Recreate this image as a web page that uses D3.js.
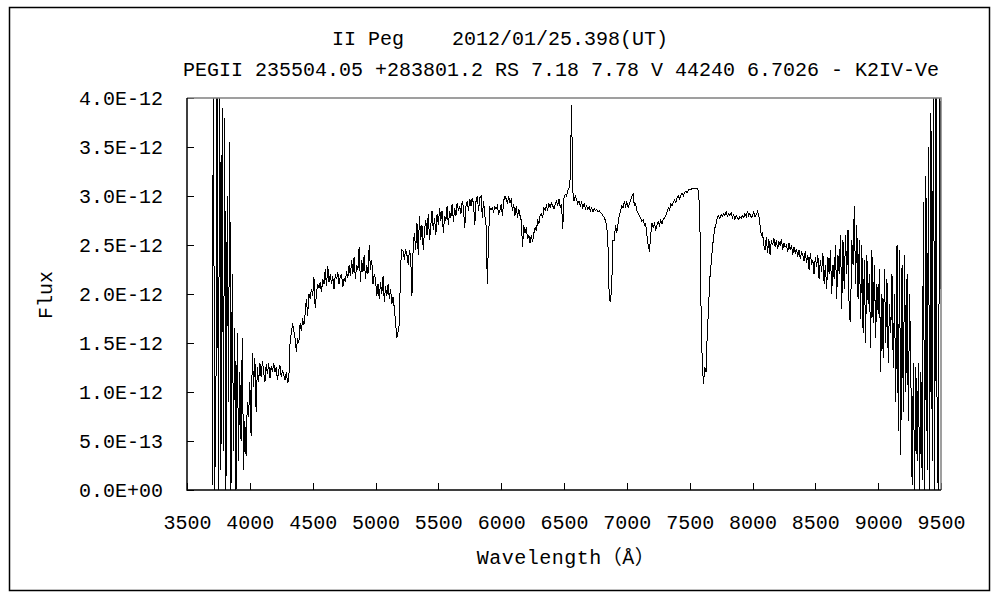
<!DOCTYPE html>
<html>
<head>
<meta charset="utf-8">
<script src="https://cdn.jsdelivr.net/npm/d3@7"></script>
<style>
  body { margin: 0; background: #fff; }
  text { font-family: "Liberation Mono", "Noto Sans CJK JP", monospace; font-size: 20px; fill: #000; white-space: pre; }
</style>
</head>
<body>
<div id="chart"></div>
<script>
// title lines
var titleLines = ["II Peg    2012/01/25.398(UT)",
                  "PEGII 235504.05 +283801.2 RS 7.18 7.78 V 44240 6.7026 - K2IV-Ve"];

// tick values (flux in units of 1E-12)
var xTicks = [3500, 4000, 4500, 5000, 5500, 6000, 6500, 7000, 7500, 8000, 8500, 9000, 9500];
var yTicks = [0, 0.5, 1.0, 1.5, 2.0, 2.5, 3.0, 3.5, 4.0];

// spectrum sampled every 10 A from 3700 A, flux in 1E-12
var waveStart = 3700, waveStep = 10;
var flux = [
  /*3700*/ 0.05, 4.5, 0.0, 0.8, 4.5, 0.0, 4.5, 0.2, 3.9, 0.4,
  /*3800*/ 3.8, 0.0, 3.0, 0.9, 3.55, 0.0, 2.2, 0.4, 1.65, 0.0,
  /*3900*/ 1.6, 0.3, 1.2, 0.5, 1.55, 0.2, 0.7, 0.35, 0.9, 0.75,
  /*4000*/ 1.1, 0.55, 1.4, 1.05, 1.35, 0.8, 1.25, 1.1, 1.3, 1.15,
  /*4100*/ 1.32, 1.2, 1.1, 1.28, 1.18, 1.3, 1.14, 1.26, 1.2, 1.3,
  /*4200*/ 1.2, 1.25, 1.12, 1.22, 1.27, 1.15, 1.22, 1.18, 1.12, 1.2,
  /*4300*/ 1.1, 1.12, 1.5, 1.6, 1.7, 1.62, 1.55, 1.41, 1.55, 1.5,
  /*4400*/ 1.7, 1.62, 1.75, 1.68, 1.8, 1.95, 1.78, 2.0, 1.95, 2.05,
  /*4500*/ 1.98, 2.17, 1.86, 2.0, 2.1, 2.06, 2.12, 2.02, 2.15, 2.1,
  /*4600*/ 2.25, 2.08, 2.29, 2.12, 2.2, 2.1, 2.18, 2.05, 2.2, 2.15,
  /*4700*/ 2.22, 2.1, 2.18, 2.2, 2.07, 2.16, 2.12, 2.23, 2.16, 2.3,
  /*4800*/ 2.18, 2.35, 2.2, 2.38, 2.15, 2.3, 2.25, 2.48, 2.12, 2.35,
  /*4900*/ 2.22, 2.4, 2.15, 2.3, 2.2, 2.5, 2.25, 2.35, 2.1, 2.2,
  /*5000*/ 2.15, 1.98, 2.1, 1.95, 2.12, 2.0, 2.18, 1.92, 2.08, 1.98,
  /*5100*/ 2.1, 1.95, 2.05, 1.9, 1.97, 1.85, 1.7, 1.55, 1.62, 1.7,
  /*5200*/ 2.3, 2.45, 2.44, 2.35, 2.46, 2.4, 2.3, 2.45, 2.38, 1.98,
  /*5300*/ 2.5, 2.62, 2.45, 2.72, 2.4, 2.8, 2.55, 2.7, 2.45, 2.65,
  /*5400*/ 2.75, 2.6, 2.82, 2.55, 2.7, 2.85, 2.65, 2.78, 2.6, 2.82,
  /*5500*/ 2.7, 2.88, 2.75, 2.85, 2.62, 2.8, 2.75, 2.9, 2.7, 2.85,
  /*5600*/ 2.78, 2.92, 2.74, 2.88, 2.8, 2.93, 2.85, 2.9, 2.82, 2.95,
  /*5700*/ 2.88, 2.67, 2.9, 2.95, 2.85, 2.97, 2.9, 2.98, 2.92, 2.7,
  /*5800*/ 2.95, 3.0, 2.85, 2.98, 3.0, 2.78, 2.95, 2.8, 2.7, 2.1,
  /*5900*/ 2.6, 2.88, 2.86, 2.88, 2.84, 2.89, 2.87, 2.9, 2.82, 2.85,
  /*6000*/ 2.92, 2.8, 2.95, 3.0, 2.97, 2.92, 3.0, 2.93, 2.96, 2.85,
  /*6100*/ 2.92, 2.8, 2.9, 2.78, 2.87, 2.8, 2.75, 2.48, 2.7, 2.62,
  /*6200*/ 2.68, 2.56, 2.6, 2.52, 2.6, 2.53, 2.62, 2.68, 2.64, 2.75,
  /*6300*/ 2.72, 2.8, 2.82, 2.78, 2.88, 2.85, 2.9, 2.86, 2.92, 2.88,
  /*6400*/ 2.93, 2.9, 2.87, 2.92, 2.95, 2.9, 2.97, 2.88, 2.92, 2.66,
  /*6500*/ 2.98, 3.02, 3.0, 3.06, 3.08, 3.19, 3.93, 3.05, 2.95, 3.0,
  /*6600*/ 2.97, 2.92, 2.95, 2.9, 2.94, 2.88, 2.92, 2.87, 2.9, 2.86,
  /*6700*/ 2.89, 2.85, 2.88, 2.84, 2.87, 2.85, 2.86, 2.84, 2.85, 2.83,
  /*6800*/ 2.82, 2.8, 2.78, 2.75, 2.7, 2.5, 1.95, 1.92, 2.1, 2.55,
  /*6900*/ 2.55, 2.7, 2.62, 2.72, 2.8, 2.85, 2.9, 2.88, 2.95, 2.9,
  /*7000*/ 2.94, 2.88, 2.92, 2.96, 3.0, 3.02, 2.9, 2.92, 2.85, 2.82,
  /*7100*/ 2.8, 2.77, 2.74, 2.76, 2.7, 2.72, 2.6, 2.5, 2.43, 2.6,
  /*7200*/ 2.72, 2.68, 2.72, 2.66, 2.7, 2.74, 2.7, 2.75, 2.72, 2.76,
  /*7300*/ 2.78, 2.8, 2.84, 2.88, 2.86, 2.92, 2.9, 2.94, 2.96, 2.93,
  /*7400*/ 2.98, 3.0, 2.97, 3.01, 3.03, 3.0, 3.04, 3.05, 3.03, 3.06,
  /*7500*/ 3.07, 3.06, 3.08, 3.08, 3.08, 3.08, 3.08, 3.05, 2.85, 1.9,
  /*7600*/ 1.3, 1.08, 1.25, 1.2, 1.6, 1.85, 2.15, 2.3, 2.45, 2.58,
  /*7700*/ 2.67, 2.72, 2.78, 2.8, 2.77, 2.81, 2.79, 2.82, 2.8, 2.84,
  /*7800*/ 2.79, 2.82, 2.8, 2.83, 2.78, 2.81, 2.76, 2.8, 2.78, 2.76,
  /*7900*/ 2.79, 2.77, 2.8, 2.78, 2.82, 2.79, 2.85, 2.8, 2.82, 2.78,
  /*8000*/ 2.8, 2.84, 2.79, 2.81, 2.84, 2.8, 2.7, 2.6, 2.62, 2.5,
  /*8100*/ 2.45, 2.58, 2.42, 2.56, 2.4, 2.55, 2.5, 2.57, 2.48, 2.55,
  /*8200*/ 2.46, 2.53, 2.5, 2.56, 2.45, 2.52, 2.48, 2.5, 2.43, 2.52,
  /*8300*/ 2.45, 2.5, 2.4, 2.48, 2.42, 2.46, 2.38, 2.45, 2.36, 2.43,
  /*8400*/ 2.4, 2.34, 2.44, 2.32, 2.4, 2.25, 2.42, 2.3, 2.35, 2.2,
  /*8500*/ 2.38, 2.28, 2.4, 2.15, 2.35, 2.22, 2.42, 2.1, 2.3, 2.05,
  /*8600*/ 2.38, 2.2, 2.45, 2.0, 2.3, 2.15, 2.5, 1.95, 2.4, 2.2,
  /*8700*/ 2.6, 1.85, 2.55, 2.05, 2.6, 2.2, 2.65, 1.75, 1.72, 2.55,
  /*8800*/ 2.3, 2.9, 2.1, 2.7, 1.95, 2.55, 1.75, 2.5, 1.6, 2.35,
  /*8900*/ 1.5, 2.4, 1.9, 2.2, 1.45, 2.45, 1.7, 2.3, 1.55, 2.1,
  /*9000*/ 1.8, 2.25, 1.2, 2.0, 1.35, 2.25, 1.5, 2.15, 1.3, 1.9,
  /*9100*/ 1.6, 2.2, 1.25, 2.0, 0.9, 2.5, 0.6, 2.45, 0.36, 2.3,
  /*9200*/ 0.8, 2.4, 1.0, 2.2, 0.7, 2.0, 1.2, 0.05, 1.3, 0.0,
  /*9300*/ 1.25, 0.3, 1.3, 0.0, 1.2, 0.1, 2.94, 0.0, 3.2, 0.2,
  /*9400*/ 3.5, 0.0, 3.85, 0.3, 4.5, 0.0, 4.5, 0.2, 0.0, 4.5,
  /*9500*/ 2.05
];

var wavelength = flux.map(function(d, i) { return waveStart + i * waveStep; });
var data = flux.map(function(d, i) { return {w: wavelength[i], f: d}; });

var width = 1000, height = 600;
var plot = {left: 187, right: 941, top: 98, bottom: 490};

var svg = d3.select("#chart")
  .append("svg")
    .attr("width", width)
    .attr("height", height)
    .style("display", "block")
    .style("background", "#fff");

// outer frame
svg.append("rect")
  .attr("x", 9.5).attr("y", 7.5)
  .attr("width", 980).attr("height", 583)
  .attr("fill", "none")
  .attr("stroke", "#000")
  .attr("stroke-width", 1.5);

// titles
svg.append("text").attr("x", 500).attr("y", 45).attr("text-anchor", "middle").text(titleLines[0]);
svg.append("text").attr("x", 561).attr("y", 76).attr("text-anchor", "middle").text(titleLines[1]);

var x = d3.scaleLinear().domain([3500, 9500]).range([plot.left, plot.right]);
var y = d3.scaleLinear().domain([0, 4]).range([plot.bottom, plot.top]);

// 4.0E-12 style labels
function sci(v) {
  v = v * 1e-12;
  if (v === 0) return "0.0E+00";
  var e = Math.floor(Math.log10(Math.abs(v)) + 1e-9);
  var m = v / Math.pow(10, e);
  return m.toFixed(1) + "E" + (e < 0 ? "-" : "+") + String(Math.abs(e)).padStart(2, "0");
}

// clip the spectrum to the plot box
svg.append("clipPath").attr("id", "clip")
  .append("rect")
    .attr("x", plot.left).attr("y", plot.top)
    .attr("width", plot.right - plot.left).attr("height", plot.bottom - plot.top);

svg.append("path")
  .datum(data)
  .attr("clip-path", "url(#clip)")
  .attr("fill", "none")
  .attr("stroke", "#000")
  .attr("stroke-width", 1)
  .attr("shape-rendering", "crispEdges")
  .attr("d", d3.line()
    .x(function(d) { return x(d.w); })
    .y(function(d) { return y(d.f); }));

// axes, ticks point inward
var xAxis = svg.append("g")
  .attr("transform", "translate(0," + plot.bottom + ")")
  .call(d3.axisBottom(x).tickValues(xTicks).tickSizeInner(-7).tickSizeOuter(0).tickPadding(25).tickFormat(d3.format("d")));
var yAxis = svg.append("g")
  .attr("transform", "translate(" + plot.left + ",0)")
  .call(d3.axisLeft(y).tickValues(yTicks).tickSizeInner(-7).tickSizeOuter(0).tickPadding(24).tickFormat(sci));
xAxis.select(".domain").remove();
yAxis.select(".domain").remove();
svg.selectAll(".tick line").attr("stroke", "#000").attr("shape-rendering", "crispEdges");
svg.selectAll(".tick text").attr("font-family", null).attr("font-size", null);

// plot frame: gray top/right, black left/bottom
svg.append("path")
  .attr("d", "M" + plot.left + "," + plot.top + "H" + plot.right + "V" + plot.bottom)
  .attr("fill", "none").attr("stroke", "#808080").attr("stroke-width", 1.5);
svg.append("path")
  .attr("d", "M" + plot.left + "," + plot.top + "V" + plot.bottom + "H" + plot.right)
  .attr("fill", "none").attr("stroke", "#000").attr("stroke-width", 1.5);

// axis titles
svg.append("text")
  .attr("x", 566).attr("y", 564)
  .attr("text-anchor", "middle")
  .attr("letter-spacing", 0.5)
  .text("Wavelength（Å）");
svg.append("text")
  .attr("transform", "translate(52,295) rotate(-90)")
  .attr("text-anchor", "middle")
  .text("Flux");
</script>
</body>
</html>
